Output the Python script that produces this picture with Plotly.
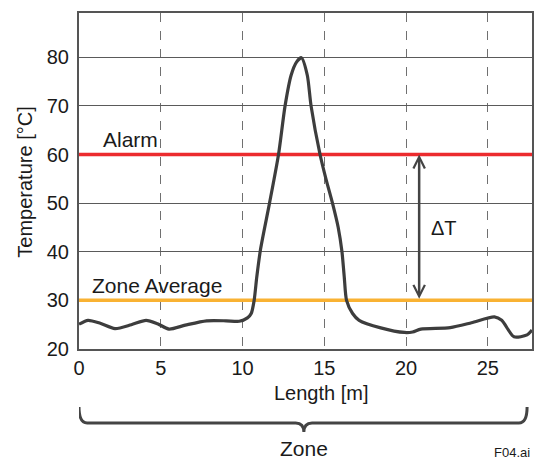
import plotly.graph_objects as go

# ---- data ----
length_m = [0, 0.55, 1.3, 2.2, 3.2, 4.1, 4.8, 5.5, 6.5, 7.8, 9.0, 9.8, 10.3, 10.53, 10.71,
            10.87, 11.1, 11.65, 12.2, 12.6, 12.97, 13.3, 13.6, 13.96, 14.19,
            14.74, 15.1, 15.5, 15.85, 16.08, 16.22, 16.36, 16.73, 17.13, 18.45, 19.9,
            20.4, 20.9, 22.7, 24.0, 25.4, 25.85, 26.6, 27.4, 27.7]
temp_c = [25.1, 25.9, 25.3, 24.2, 25.0, 25.9, 25.2, 24.1, 24.9, 25.8, 25.8, 25.7, 26.4, 27.3, 30,
          34.8, 40.5, 50, 60, 70, 76.3, 79.0, 79.9, 76.3, 70,
          60, 55, 50, 45, 40, 34.8, 30, 27.3, 25.9, 24.35, 23.4,
          23.5, 24.1, 24.4, 25.4, 26.6, 25.9, 22.5, 22.9, 23.9]

alarm_level = 60
zone_average = 30
delta_x = 20.8
zone_start, zone_end = 0, 27.4

x_ticks = [0, 5, 10, 15, 20, 25]
y_ticks = [20, 30, 40, 50, 60, 70, 80]
x_range = [0, 27.7]
y_range = [20, 89.1]

FONT = "Liberation Sans, Arial, sans-serif"
TXT = "#1a1a1a"
LINE = "#444444"

fig = go.Figure()

fig.add_trace(go.Scatter(x=x_range, y=[alarm_level, alarm_level], mode="lines",
                         line=dict(color="#ec2b2e", width=3.5), hoverinfo="skip",
                         showlegend=False, cliponaxis=False))
fig.add_trace(go.Scatter(x=x_range, y=[zone_average, zone_average], mode="lines",
                         line=dict(color="#f9b233", width=3.5), hoverinfo="skip",
                         showlegend=False, cliponaxis=False))
fig.add_trace(go.Scatter(x=length_m, y=temp_c, mode="lines",
                         line=dict(color="#3d3d3d", width=3.2, shape="spline", smoothing=0.7),
                         showlegend=False))

# delta T arrow
fig.add_annotation(x=delta_x, y=alarm_level, ax=delta_x, ay=zone_average,
                   xref="x", yref="y", axref="x", ayref="y", text="",
                   showarrow=True, arrowside="end+start", arrowhead=5, startarrowhead=5,
                   arrowsize=0.9, startarrowsize=0.9, arrowwidth=2.5, arrowcolor=LINE,
                   standoff=0, startstandoff=0)

fig.add_annotation(x=21.4, y=44.9, xref="x", yref="y", text="ΔT", showarrow=False,
                   xanchor="left", yanchor="middle", font=dict(family=FONT, size=20, color=TXT))
fig.add_annotation(x=1.34, y=63.1, xref="x", yref="y", text="Alarm", showarrow=False,
                   xanchor="left", yanchor="middle", font=dict(family=FONT, size=21, color=TXT))
fig.add_annotation(x=0.67, y=33.1, xref="x", yref="y", text="Zone Average", showarrow=False,
                   xanchor="left", yanchor="middle", font=dict(family=FONT, size=21, color=TXT))

# axis titles
fig.add_annotation(x=0.535, y=-0.131, xref="paper", yref="paper", text="Length [m]",
                   showarrow=False, xanchor="center", yanchor="middle",
                   font=dict(family=FONT, size=20, color=TXT))
fig.add_annotation(x=-0.121, y=0.4955, xref="paper", yref="paper", text="Temperature [°C]",
                   showarrow=False, xanchor="center", yanchor="middle", textangle=-90,
                   font=dict(family=FONT, size=20, color=TXT))

# zone brace
r = 0.5
xc = (zone_start + zone_end) / 2 + 0.05
y_top, y_line, y_tip = -0.1726, -0.220, -0.247
path = (f"M {zone_start},{y_top} Q {zone_start},{y_line} {zone_start + r},{y_line} "
        f"L {xc - r},{y_line} Q {xc},{y_line} {xc},{y_tip} "
        f"Q {xc},{y_line} {xc + r},{y_line} L {zone_end - r},{y_line} "
        f"Q {zone_end},{y_line} {zone_end},{y_top}")
fig.add_shape(type="path", path=path, xref="x", yref="paper",
              line=dict(color=LINE, width=3))

fig.add_annotation(x=xc, y=-0.295, xref="x", yref="paper", text="Zone", showarrow=False,
                   xanchor="center", yanchor="middle", font=dict(family=FONT, size=21, color=TXT))
fig.add_annotation(x=1.0, y=-0.309, xref="paper", yref="paper", text="F04.ai", showarrow=False,
                   xanchor="right", yanchor="middle", font=dict(family=FONT, size=13, color=TXT))

fig.update_xaxes(range=x_range, tickvals=x_ticks, ticktext=[str(v) for v in x_ticks],
                 showgrid=True, gridcolor="#707070", gridwidth=1, griddash="dash",
                 showline=True, mirror=True, linecolor="#555555", linewidth=2,
                 ticks="", tickfont=dict(family=FONT, size=20, color=TXT), zeroline=False)
fig.update_yaxes(range=y_range, tickvals=y_ticks, ticktext=[str(v) for v in y_ticks],
                 showgrid=True, gridcolor="#5a5a5a", gridwidth=1,
                 showline=True, mirror=True, linecolor="#555555", linewidth=2,
                 ticks="outside", ticklen=4, tickcolor="rgba(0,0,0,0)",
                 tickfont=dict(family=FONT, size=20, color=TXT), zeroline=False)

fig.update_layout(width=535, height=460, margin=dict(l=79, r=1, t=13, b=111),
                  plot_bgcolor="white", paper_bgcolor="white")

fig.write_html("out.html", config={"displayModeBar": False},
               post_script="document.body.style.margin='0';document.body.style.overflow='hidden';")
